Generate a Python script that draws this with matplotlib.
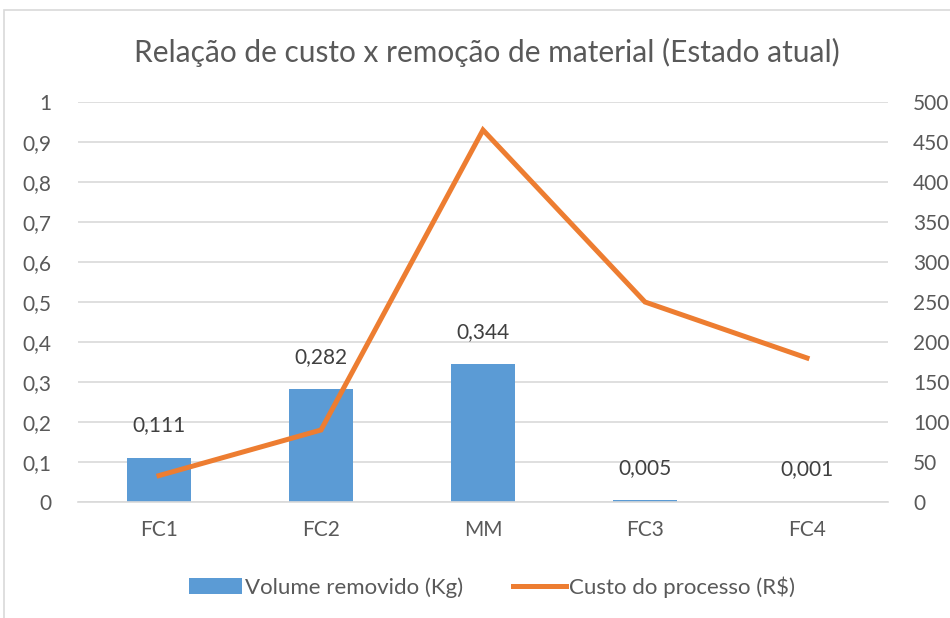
import matplotlib
matplotlib.use("Agg")
import matplotlib.pyplot as plt
from matplotlib.lines import Line2D
from matplotlib.patches import Patch, Rectangle

categories = ["FC1", "FC2", "MM", "FC3", "FC4"]
volume = [0.111, 0.282, 0.344, 0.005, 0.001]
volume_labels = ["0,111", "0,282", "0,344", "0,005", "0,001"]
cost = [33, 90, 465, 250, 180]
left_ticks = [0, 0.1, 0.2, 0.3, 0.4, 0.5, 0.6, 0.7, 0.8, 0.9, 1]
left_tick_labels = ["0", "0,1", "0,2", "0,3", "0,4", "0,5", "0,6", "0,7", "0,8", "0,9", "1"]
right_ticks = [0, 50, 100, 150, 200, 250, 300, 350, 400, 450, 500]

plt.rcParams['font.family'] = ['Lato', 'DejaVu Sans']
W, H = 950, 618
fig = plt.figure(figsize=(W / 100, H / 100), dpi=100)

txt = "#595959"
blue = "#5B9BD5"
orange = "#ED7D31"
fs = 15

# plot area: x 78..888, y 102..502 (pixels from top)
ax = fig.add_axes([78 / W, 1 - 502 / H, 810 / W, 400 / H])
x = list(range(len(categories)))
ax.bar(x, volume, width=0.4, color=blue, zorder=2)
ax.set_xlim(-0.5, len(categories) - 0.5)
ax.set_ylim(0, 1)
ax.set_yticks(left_ticks)
ax.set_yticklabels(left_tick_labels)
ax.set_xticks(x)
ax.set_xticklabels(categories)
ax.yaxis.grid(True, color="#D9D9D9", linewidth=1.2, zorder=0)
ax.set_axisbelow(True)
for s in ["top", "left", "right"]:
    ax.spines[s].set_visible(False)
ax.spines["bottom"].set_color("#D9D9D9")
ax.spines["bottom"].set_linewidth(1.2)
ax.tick_params(axis="both", length=0, labelsize=fs, colors=txt)
ax.tick_params(axis="y", pad=19)
ax.tick_params(axis="x", pad=13)

for xi, v, lab in zip(x, volume, volume_labels):
    ax.annotate(lab, (xi, v), xytext=(0, 16), textcoords="offset points",
                ha="center", va="bottom", fontsize=fs, color="#404040")

ax2 = ax.twinx()
ax2.plot(x, cost, color=orange, linewidth=3.6, solid_joinstyle="miter", zorder=3)
ax2.set_ylim(0, 500)
ax2.set_yticks(right_ticks)
for s in ["top", "left", "right", "bottom"]:
    ax2.spines[s].set_visible(False)
ax2.tick_params(axis="y", length=0, labelsize=fs, colors=txt, pad=18)

fig.text(487 / W, 1 - 52 / H, "Relação de custo x remoção de material (Estado atual)",
         ha="center", va="center", fontsize=21.5, color=txt)

handles = [Patch(facecolor=blue, edgecolor="none"),
           Line2D([0], [0], color=orange, linewidth=3.6)]
fig.legend(handles, ["Volume removido (Kg)", "Custo do processo (R$)"],
           loc="center", bbox_to_anchor=(492 / W, 1 - 587 / H), ncol=2,
           frameon=False, fontsize=16, labelcolor=txt, handlelength=2.4,
           handletextpad=0.15, columnspacing=2.2)

# chart border
fig.patches.append(Rectangle((4 / W, -0.1), 1.2, 1 - 10 / H + 0.1,
                             transform=fig.transFigure, fill=False,
                             edgecolor="#D9D9D9", linewidth=1.2))

fig.savefig("out.png", dpi=100)
